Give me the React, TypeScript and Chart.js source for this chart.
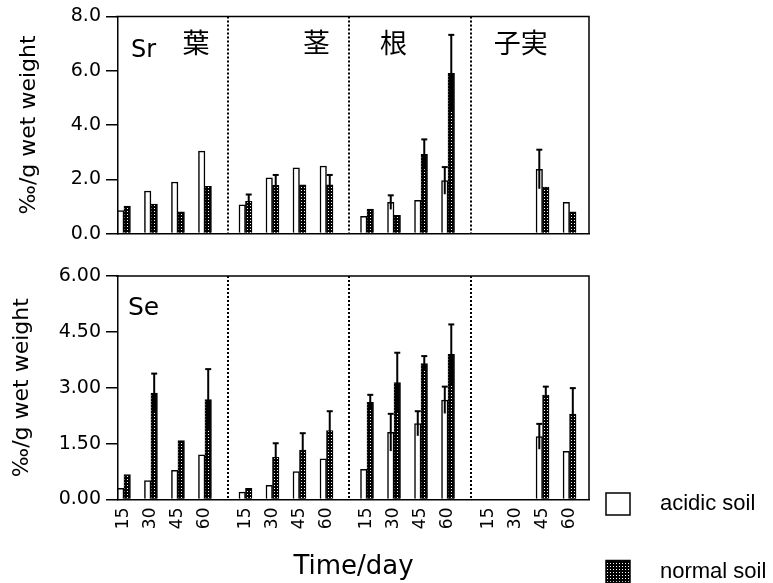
import React, { useEffect, useRef } from 'react';
import { Chart, registerables } from 'chart.js';

Chart.register(...registerables);

// ---- data ----
const days = ['15', '30', '45', '60'];
const organs = ['葉', '茎', '根', '子実'];
const seriesNames = ['acidic soil', 'normal soil'];

// Sr panel (‰/g wet weight)
const srAcidic = [0.85, 1.57, 1.90, 3.04, 1.06, 2.05, 2.42, 2.49, 0.64, 1.15, 1.23, 1.95, null, null, 2.37, 1.15];
const srNormal = [1.01, 1.09, 0.80, 1.74, 1.19, 1.78, 1.80, 1.80, 0.90, 0.67, 2.92, 5.90, null, null, 1.71, 0.80];
const srAcidicErr = [null, null, null, null, null, null, null, null, null, 0.26, null, 0.50, null, null, 0.72, null];
const srNormalErr = [null, null, null, null, 0.25, 0.38, null, 0.36, null, null, 0.55, 1.42, null, null, null, null];

// Se panel (‰/g wet weight)
const seAcidic = [0.30, 0.51, 0.78, 1.20, 0.20, 0.38, 0.75, 1.09, 0.81, 1.80, 2.04, 2.67, null, null, 1.69, 1.29];
const seNormal = [0.67, 2.86, 1.58, 2.68, 0.30, 1.13, 1.33, 1.85, 2.61, 3.14, 3.65, 3.90, null, null, 2.80, 2.29];
const seAcidicErr = [null, null, null, null, null, null, null, null, null, 0.50, 0.33, 0.36, null, null, 0.34, null];
const seNormalErr = [null, 0.52, null, 0.82, null, 0.38, 0.45, 0.52, 0.20, 0.80, 0.20, 0.80, null, null, 0.23, 0.70];

const srYTicks = [0, 2, 4, 6, 8];
const seYTicks = [0, 1.5, 3, 4.5, 6];

// ---- layout helpers ----
const GROUP_STRIDE = 4.5;
const xPos: number[] = organs.flatMap((_, g) => days.map((_, i) => g * GROUP_STRIDE + i));
const tickLabelFor = (v: number) => {
  const k = xPos.findIndex((p) => Math.abs(p - v) < 1e-6);
  return k >= 0 ? days[k % days.length] : '';
};

const FONT = 'DejaVu Sans';
const CJK = '"Noto Sans CJK JP"';

function makePattern(): CanvasPattern | string {
  const c = document.createElement('canvas');
  c.width = 3;
  c.height = 3;
  const g = c.getContext('2d');
  if (!g) return '#444';
  g.fillStyle = '#000';
  g.fillRect(0, 0, 3, 3);
  g.fillStyle = '#fff';
  g.fillRect(1, 1, 1, 1);
  return g.createPattern(c, 'repeat') || '#444';
}

const decoPlugin = {
  id: 'deco',
  afterDatasetsDraw(chart: any, _args: any, opts: any) {
    const { ctx, chartArea: a, scales } = chart;
    const x = scales.x;
    const y = scales.y;
    ctx.save();
    // box top & right
    ctx.strokeStyle = '#000';
    ctx.lineWidth = 1.5;
    ctx.beginPath();
    ctx.moveTo(a.left - 2, a.top);
    ctx.lineTo(a.right, a.top);
    ctx.lineTo(a.right, a.bottom);
    ctx.stroke();
    // dotted separators
    ctx.setLineDash([2, 2]);
    ctx.lineWidth = 2;
    for (let g = 1; g < organs.length; g++) {
      const px = Math.round(x.getPixelForValue(g * GROUP_STRIDE - 0.65));
      ctx.beginPath();
      ctx.moveTo(px, a.top);
      ctx.lineTo(px, a.bottom);
      ctx.stroke();
    }
    ctx.setLineDash([]);
    // error bars
    chart.data.datasets.forEach((ds: any, di: number) => {
      const meta = chart.getDatasetMeta(di);
      meta.data.forEach((bar: any, i: number) => {
        const e = ds.errors ? ds.errors[i] : null;
        const v = ds.data[i] ? ds.data[i].y : null;
        if (e == null || v == null) return;
        const cx = bar.x;
        const yt = y.getPixelForValue(v + e);
        const yb = y.getPixelForValue(Math.max(0, v - e));
        ctx.strokeStyle = '#000';
        ctx.lineWidth = 2;
        ctx.beginPath();
        ctx.moveTo(cx, yb);
        ctx.lineTo(cx, yt);
        ctx.stroke();
        ctx.beginPath();
        ctx.moveTo(cx - 3, yt);
        ctx.lineTo(cx + 3, yt);
        ctx.stroke();
      });
    });
    // panel labels
    ctx.fillStyle = '#000';
    ctx.textBaseline = 'alphabetic';
    ctx.textAlign = 'left';
    ctx.font = `${opts.elementSize}px "${FONT}"`;
    ctx.fillText(opts.element, x.getPixelForValue(opts.elementX), a.top + opts.elementDy);
    if (opts.organLabels) {
      ctx.font = `27px ${CJK}`;
      ctx.textAlign = 'center';
      ctx.textBaseline = 'middle';
      const organX = [2.67, 7.13, 9.98, 14.69];
      organs.forEach((t, g) => {
        ctx.fillText(t, x.getPixelForValue(organX[g]), a.top + 26);
      });
    }
    ctx.restore();
  },
};

const legendPlugin = {
  id: 'customLegend',
  afterDraw(chart: any) {
    const { ctx, chartArea: a } = chart;
    const items = chart.data.datasets;
    ctx.save();
    const bx = a.right + 17;
    const rows = [a.bottom + 4.5, a.bottom + 72];
    items.forEach((ds: any, i: number) => {
      const cy = rows[i];
      ctx.fillStyle = ds.backgroundColor;
      ctx.fillRect(bx, cy - 11, 24, 22);
      ctx.strokeStyle = '#000';
      ctx.lineWidth = 1.5;
      ctx.strokeRect(bx, cy - 11, 24, 22);
      ctx.fillStyle = '#000';
      ctx.font = '22px "Liberation Sans"';
      ctx.textAlign = 'left';
      ctx.textBaseline = 'middle';
      ctx.fillText(ds.label, bx + 54, cy);
    });
    ctx.restore();
  },
};

function buildConfig(
  acidic: (number | null)[],
  normal: (number | null)[],
  acidicErr: (number | null)[],
  normalErr: (number | null)[],
  yTicks: number[],
  decimals: number,
  pattern: any,
  bottom: boolean,
  height: number
): any {
  const yMax = yTicks[yTicks.length - 1];
  return {
    type: 'bar',
    data: {
      datasets: [
        {
          label: seriesNames[0],
          data: xPos.map((x, i) => ({ x, y: acidic[i] })),
          errors: acidicErr,
          backgroundColor: '#fff',
          borderColor: '#000',
          borderWidth: 1.5,
          barThickness: 6.5,
        },
        {
          label: seriesNames[1],
          data: xPos.map((x, i) => ({ x, y: normal[i] })),
          errors: normalErr,
          backgroundColor: pattern,
          borderColor: '#000',
          borderWidth: 1,
          barThickness: 6.5,
        },
      ],
    },
    options: {
      responsive: false,
      animation: false,
      layout: { padding: { left: 0, right: 184, top: bottom ? 26 : 16, bottom: 0 } },
      plugins: {
        legend: { display: false },
        tooltip: { enabled: false },
        deco: bottom
          ? { element: 'Se', elementSize: 25, elementX: 0.15, elementDy: 39, organLabels: false }
          : { element: 'Sr', elementSize: 24, elementX: 0.26, elementDy: 41, organLabels: true },
      },
      scales: {
        x: {
          type: 'linear',
          offset: false,
          min: -0.22,
          max: 17.22,
          afterBuildTicks: (s: any) => {
            s.ticks = xPos.map((v) => ({ value: v }));
          },
          afterFit: (s: any) => {
            s.height = bottom ? height - 249.5 : height - 241.5;
          },
          ticks: {
            display: bottom,
            autoSkip: false,
            minRotation: 90,
            maxRotation: 90,
            padding: 8,
            color: '#000',
            font: { family: FONT, size: 17 },
            callback: (v: any) => tickLabelFor(Number(v)),
          },
          grid: { display: false, drawTicks: false, offset: false },
          border: { display: true, color: '#000', width: 1.5 },
          title: {
            display: bottom,
            text: 'Time/day',
            color: '#000',
            font: { family: FONT, size: 26 },
            padding: { top: 0, bottom: 0 },
          },
        },
        y: {
          type: 'linear',
          min: 0,
          max: yMax,
          afterBuildTicks: (s: any) => {
            s.ticks = yTicks.map((v) => ({ value: v }));
          },
          afterFit: (s: any) => {
            s.width = 118;
          },
          ticks: {
            color: '#000',
            padding: 5,
            font: { family: FONT, size: 19 },
            callback: (v: any) => Number(v).toFixed(decimals),
          },
          grid: { drawOnChartArea: false, drawTicks: true, tickLength: 12, color: '#000', lineWidth: 1.5 },
          border: { display: true, color: '#000', width: 1.5 },
          title: {
            display: true,
            text: '‰/g wet weight',
            color: '#000',
            font: { family: FONT, size: 22 },
            padding: { top: bottom ? 9 : 16, bottom: 0 },
          },
        },
      },
    },
    plugins: bottom ? [decoPlugin, legendPlugin] : [decoPlugin],
  };
}

export default function App() {
  const topRef = useRef<HTMLCanvasElement | null>(null);
  const botRef = useRef<HTMLCanvasElement | null>(null);

  useEffect(() => {
    if (!topRef.current || !botRef.current) return;
    const pattern = makePattern();
    const top = new Chart(
      topRef.current,
      buildConfig(srAcidic, srNormal, srAcidicErr, srNormalErr, srYTicks, 1, pattern, false, 250)
    );
    const bot = new Chart(
      botRef.current,
      buildConfig(seAcidic, seNormal, seAcidicErr, seNormalErr, seYTicks, 2, pattern, true, 333)
    );
    return () => {
      top.destroy();
      bot.destroy();
    };
  }, []);

  return (
    <div style={{ position: 'fixed', left: 0, top: 0, width: 773, height: 583, background: '#fff' }}>
      <canvas ref={topRef} width={773} height={250} style={{ position: 'absolute', left: 0, top: 0 }} />
      <canvas ref={botRef} width={773} height={333} style={{ position: 'absolute', left: 0, top: 250 }} />
    </div>
  );
}
